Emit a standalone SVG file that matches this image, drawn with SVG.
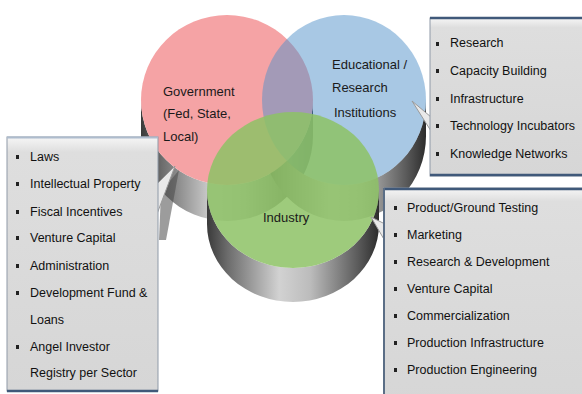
<svg xmlns="http://www.w3.org/2000/svg" width="582" height="394" viewBox="0 0 582 394">
<style>
.lbl{font-family:"Liberation Sans",Arial,sans-serif;font-size:13px;fill:#1a1a1a}
.it{font-family:"Liberation Sans",Arial,sans-serif;font-size:12.5px;fill:#111}
.bul{fill:#222}
.box{fill:url(#boxfill);stroke:#8f9aa8;stroke-width:1}
.side{fill:url(#side)}
.ptr{fill:#e9e9e9;stroke:#9a9a9a;stroke-width:1}
.edgeD{stroke:#40597a;stroke-width:2.5}
</style>
<defs>
<linearGradient id="side" x1="0" y1="0" x2="1" y2="0">
<stop offset="0" stop-color="#3a3a3a"/>
<stop offset="0.12" stop-color="#6c6c6c"/>
<stop offset="0.42" stop-color="#d2d2d2"/>
<stop offset="0.6" stop-color="#bcbcbc"/>
<stop offset="0.88" stop-color="#5a5a5a"/>
<stop offset="1" stop-color="#2c2c2c"/>
</linearGradient>
<linearGradient id="boxfill" x1="0" y1="0" x2="0" y2="1">
<stop offset="0" stop-color="#f6f6f6"/>
<stop offset="0.06" stop-color="#dedede"/>
<stop offset="1" stop-color="#d6d6d6"/>
</linearGradient>
</defs>
<rect width="582" height="394" fill="#ffffff"/>

<g id="cylinder-sides">
<path class="side" d="M141,100 L141,136 A86,85 0 0 0 313,136 L313,100 A86,85 0 0 1 141,100 Z"/>
<path class="side" d="M262,100 L262,136 A82,85 0 0 0 426,136 L426,100 A82,85 0 0 1 262,100 Z"/>
<path class="side" d="M207,190 L207,224 A86,78 0 0 0 379,224 L379,190 A86,78 0 0 1 207,190 Z"/>
</g>

<g id="government">
<ellipse cx="227" cy="100" rx="86" ry="85" fill="#f5a3a5"/>
</g>
<g id="education">
<ellipse cx="344" cy="100" rx="82" ry="85" fill="#5191c9" fill-opacity="0.5"/>
</g>
<g id="industry">
<ellipse cx="293" cy="190" rx="86" ry="78" fill="#8dc265" fill-opacity="0.85"/>
</g>

<g id="circle-labels">
<text class="lbl" x="163" y="96">Government</text>
<text class="lbl" x="163" y="118">(Fed, State,</text>
<text class="lbl" x="163" y="141">Local)</text>
<text class="lbl" x="332" y="69">Educational /</text>
<text class="lbl" x="332" y="92">Research</text>
<text class="lbl" x="334" y="117">Institutions</text>
<text class="lbl" x="263" y="222">Industry</text>
</g>

<g id="connectors">
<polygon points="161,192 179,170 166,240 159,240" fill="#4a4a4a" fill-opacity="0.55"/>
<polygon class="ptr" points="157,184 175,166 157,214"/>
<polygon class="ptr" points="431,117 412,101 431,131"/>
<polygon class="ptr" points="385,224 371,217 385,241"/>
</g>

<g id="box-edu">
<rect class="box" x="430" y="18" width="160" height="158"/>
<line class="edgeD" x1="430" y1="18" x2="582" y2="18"/>
<line class="edgeD" x1="430" y1="175" x2="582" y2="175"/>
<rect class="bul" x="436" y="42" width="3" height="4"/>
<text class="it" x="450" y="47">Research</text>
<rect class="bul" x="436" y="69" width="3" height="4"/>
<text class="it" x="450" y="75">Capacity Building</text>
<rect class="bul" x="436" y="97" width="3" height="4"/>
<text class="it" x="450" y="103">Infrastructure</text>
<rect class="bul" x="436" y="124" width="3" height="4"/>
<text class="it" x="450" y="130">Technology Incubators</text>
<rect class="bul" x="436" y="152" width="3" height="4"/>
<text class="it" x="450" y="158">Knowledge Networks</text>
</g>

<g id="box-gov">
<rect class="box" x="7" y="137" width="151" height="254"/>
<line x1="7" y1="137.5" x2="158" y2="137.5" stroke="#aebccd" stroke-width="2"/>
<line class="edgeD" x1="7" y1="391" x2="158" y2="391"/>
<rect class="bul" x="16" y="155" width="3" height="4"/>
<text class="it" x="30" y="161">Laws</text>
<rect class="bul" x="16" y="182" width="3" height="4"/>
<text class="it" x="30" y="188">Intellectual Property</text>
<rect class="bul" x="16" y="210" width="3" height="4"/>
<text class="it" x="30" y="216">Fiscal Incentives</text>
<rect class="bul" x="16" y="236" width="3" height="4"/>
<text class="it" x="30" y="242">Venture Capital</text>
<rect class="bul" x="16" y="264" width="3" height="4"/>
<text class="it" x="30" y="270">Administration</text>
<rect class="bul" x="16" y="291" width="3" height="4"/>
<text class="it" x="30" y="297">Development Fund &amp;</text>
<text class="it" x="30" y="324">Loans</text>
<rect class="bul" x="16" y="345" width="3" height="4"/>
<text class="it" x="30" y="351">Angel Investor</text>
<text class="it" x="30" y="377">Registry per Sector</text>
</g>

<g id="box-ind">
<rect class="box" x="384" y="188" width="206" height="220"/>
<line class="edgeD" x1="384" y1="189" x2="582" y2="189"/>
<line x1="384" y1="188" x2="384" y2="394" stroke="#5b6e86" stroke-width="2"/>
<rect class="bul" x="394" y="206" width="3" height="4"/>
<text class="it" x="407" y="212">Product/Ground Testing</text>
<rect class="bul" x="394" y="233" width="3" height="4"/>
<text class="it" x="407" y="239">Marketing</text>
<rect class="bul" x="394" y="260" width="3" height="4"/>
<text class="it" x="407" y="266">Research &amp; Development</text>
<rect class="bul" x="394" y="287" width="3" height="4"/>
<text class="it" x="407" y="293">Venture Capital</text>
<rect class="bul" x="394" y="314" width="3" height="4"/>
<text class="it" x="407" y="320">Commercialization</text>
<rect class="bul" x="394" y="341" width="3" height="4"/>
<text class="it" x="407" y="347">Production Infrastructure</text>
<rect class="bul" x="394" y="368" width="3" height="4"/>
<text class="it" x="407" y="374">Production Engineering</text>
</g>
</svg>
